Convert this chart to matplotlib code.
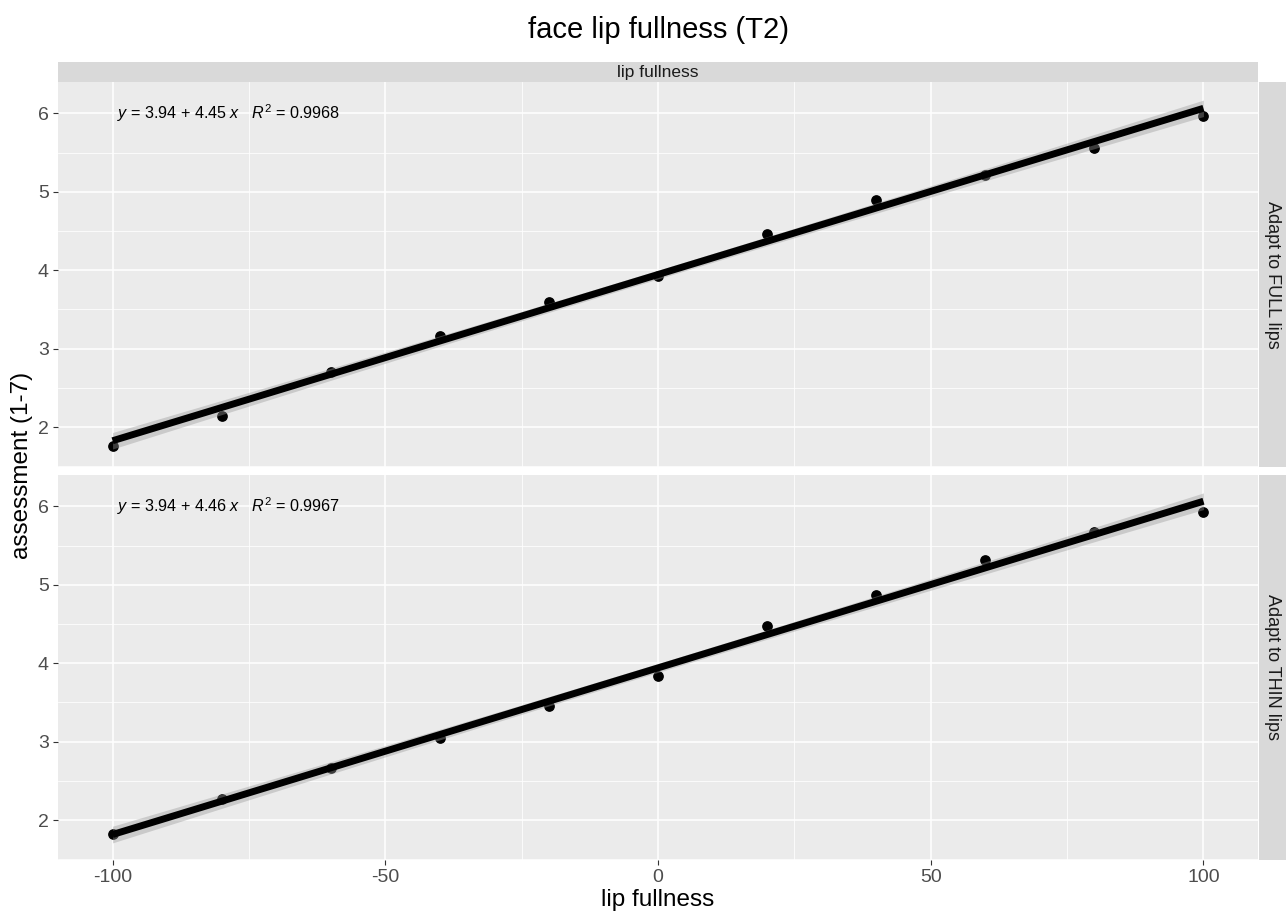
import numpy as np
import matplotlib
matplotlib.use("Agg")
import matplotlib.pyplot as plt

plt.rcParams['font.family'] = ['Liberation Sans', 'DejaVu Sans']
plt.rcParams['mathtext.fontset'] = 'custom'
plt.rcParams['mathtext.rm'] = 'Liberation Sans'
plt.rcParams['mathtext.it'] = 'Liberation Sans:italic'
plt.rcParams['axes.unicode_minus'] = False

# data
lip_x = [-100, -80, -60, -40, -20, 0, 20, 40, 60, 80, 100]
full_y = [1.76, 2.14, 2.70, 3.16, 3.59, 3.93, 4.46, 4.90, 5.22, 5.56, 5.97]
thin_y = [1.82, 2.27, 2.66, 3.05, 3.45, 3.84, 4.47, 4.87, 5.31, 5.67, 5.93]
panel_names = ["Adapt to FULL lips", "Adapt to THIN lips"]
eq_labels = [r"$y$ = 3.94 + 4.45 $x$   $R^2$ = 0.9968",
             r"$y$ = 3.94 + 4.46 $x$   $R^2$ = 0.9967"]
x_ticks = [-100, -50, 0, 50, 100]
y_ticks = [2, 3, 4, 5, 6]

W, H = 1286, 913
fig = plt.figure(figsize=(W / 100, H / 100), dpi=100)


def box(x0, y0, x1, y1):
    # pixel box (top-left origin) -> figure fraction rect
    return [x0 / W, 1 - y1 / H, (x1 - x0) / W, (y1 - y0) / H]


def fit_band(x, y, xs):
    x = np.asarray(x, float)
    y = np.asarray(y, float)
    b, a = np.polyfit(x, y, 1)
    n = len(x)
    resid = y - (a + b * x)
    s = np.sqrt(np.sum(resid ** 2) / (n - 2))
    se = s * np.sqrt(1 / n + (xs - x.mean()) ** 2 / np.sum((x - x.mean()) ** 2))
    t = 2.262  # t(0.975, 9)
    fit = a + b * xs
    return fit, fit - t * se, fit + t * se


panels = [(82, 467), (475, 860)]
series = [full_y, thin_y]
tick_col = '#4D4D4D'

for i, ((top, bot), ys) in enumerate(zip(panels, series)):
    ax = fig.add_axes(box(58, top, 1258, bot))
    ax.set_facecolor('#EBEBEB')
    for sp in ax.spines.values():
        sp.set_visible(False)
    ax.set_xlim(-110, 110)
    ax.set_ylim(1.49, 6.40)
    ax.set_xticks(x_ticks)
    ax.set_yticks(y_ticks)
    ax.set_xticks([-75, -25, 25, 75], minor=True)
    ax.set_yticks([1.5, 2.5, 3.5, 4.5, 5.5], minor=True)
    ax.grid(True, which='major', color='white', lw=1.1)
    ax.grid(True, which='minor', color='white', lw=0.55)
    ax.set_axisbelow(True)
    ax.tick_params(which='minor', length=0)
    ax.tick_params(which='major', length=3.5, color='#333333', width=0.8,
                   labelsize=14, labelcolor=tick_col, pad=3)
    if i == 0:
        ax.tick_params(axis='x', which='major', length=0, labelbottom=False)

    xs = np.linspace(-100, 100, 80)
    fit, lo, hi = fit_band(lip_x, ys, xs)
    ax.scatter(lip_x, ys, s=45, color='black', zorder=3)
    ax.fill_between(xs, lo, hi, color='#999999', alpha=0.4, lw=0, zorder=4)
    ax.plot(xs, fit, color='black', lw=5, zorder=5, solid_capstyle='butt')

    ax.text(-99.2, 6.0, eq_labels[i], fontsize=11.6, ha='left', va='center',
            color='black')

    # right strip
    sax = fig.add_axes(box(1259, top, 1286, bot))
    sax.set_facecolor('#D9D9D9')
    sax.set_xticks([])
    sax.set_yticks([])
    for sp in sax.spines.values():
        sp.set_visible(False)
    sax.text(0.5, 0.5, panel_names[i], rotation=-90, ha='center', va='center',
             fontsize=13, color='#1A1A1A', transform=sax.transAxes)

# top strip
tax = fig.add_axes(box(58, 62, 1258, 82))
tax.set_facecolor('#D9D9D9')
tax.set_xticks([])
tax.set_yticks([])
for sp in tax.spines.values():
    sp.set_visible(False)
tax.text(0.5, 0.5, "lip fullness", ha='center', va='center', fontsize=12.5,
         color='#1A1A1A', transform=tax.transAxes)

fig.text(658 / W, 1 - 30 / H, "face lip fullness (T2)", ha='center',
         va='center', fontsize=21)
fig.text(658 / W, 1 - 900 / H, "lip fullness", ha='center', va='center',
         fontsize=17.5)
fig.text(22 / W, 1 - 465 / H, "assessment (1-7)", ha='center', va='center',
         rotation=90, fontsize=17.5)

fig.savefig("out.png", dpi=100, facecolor='white')
